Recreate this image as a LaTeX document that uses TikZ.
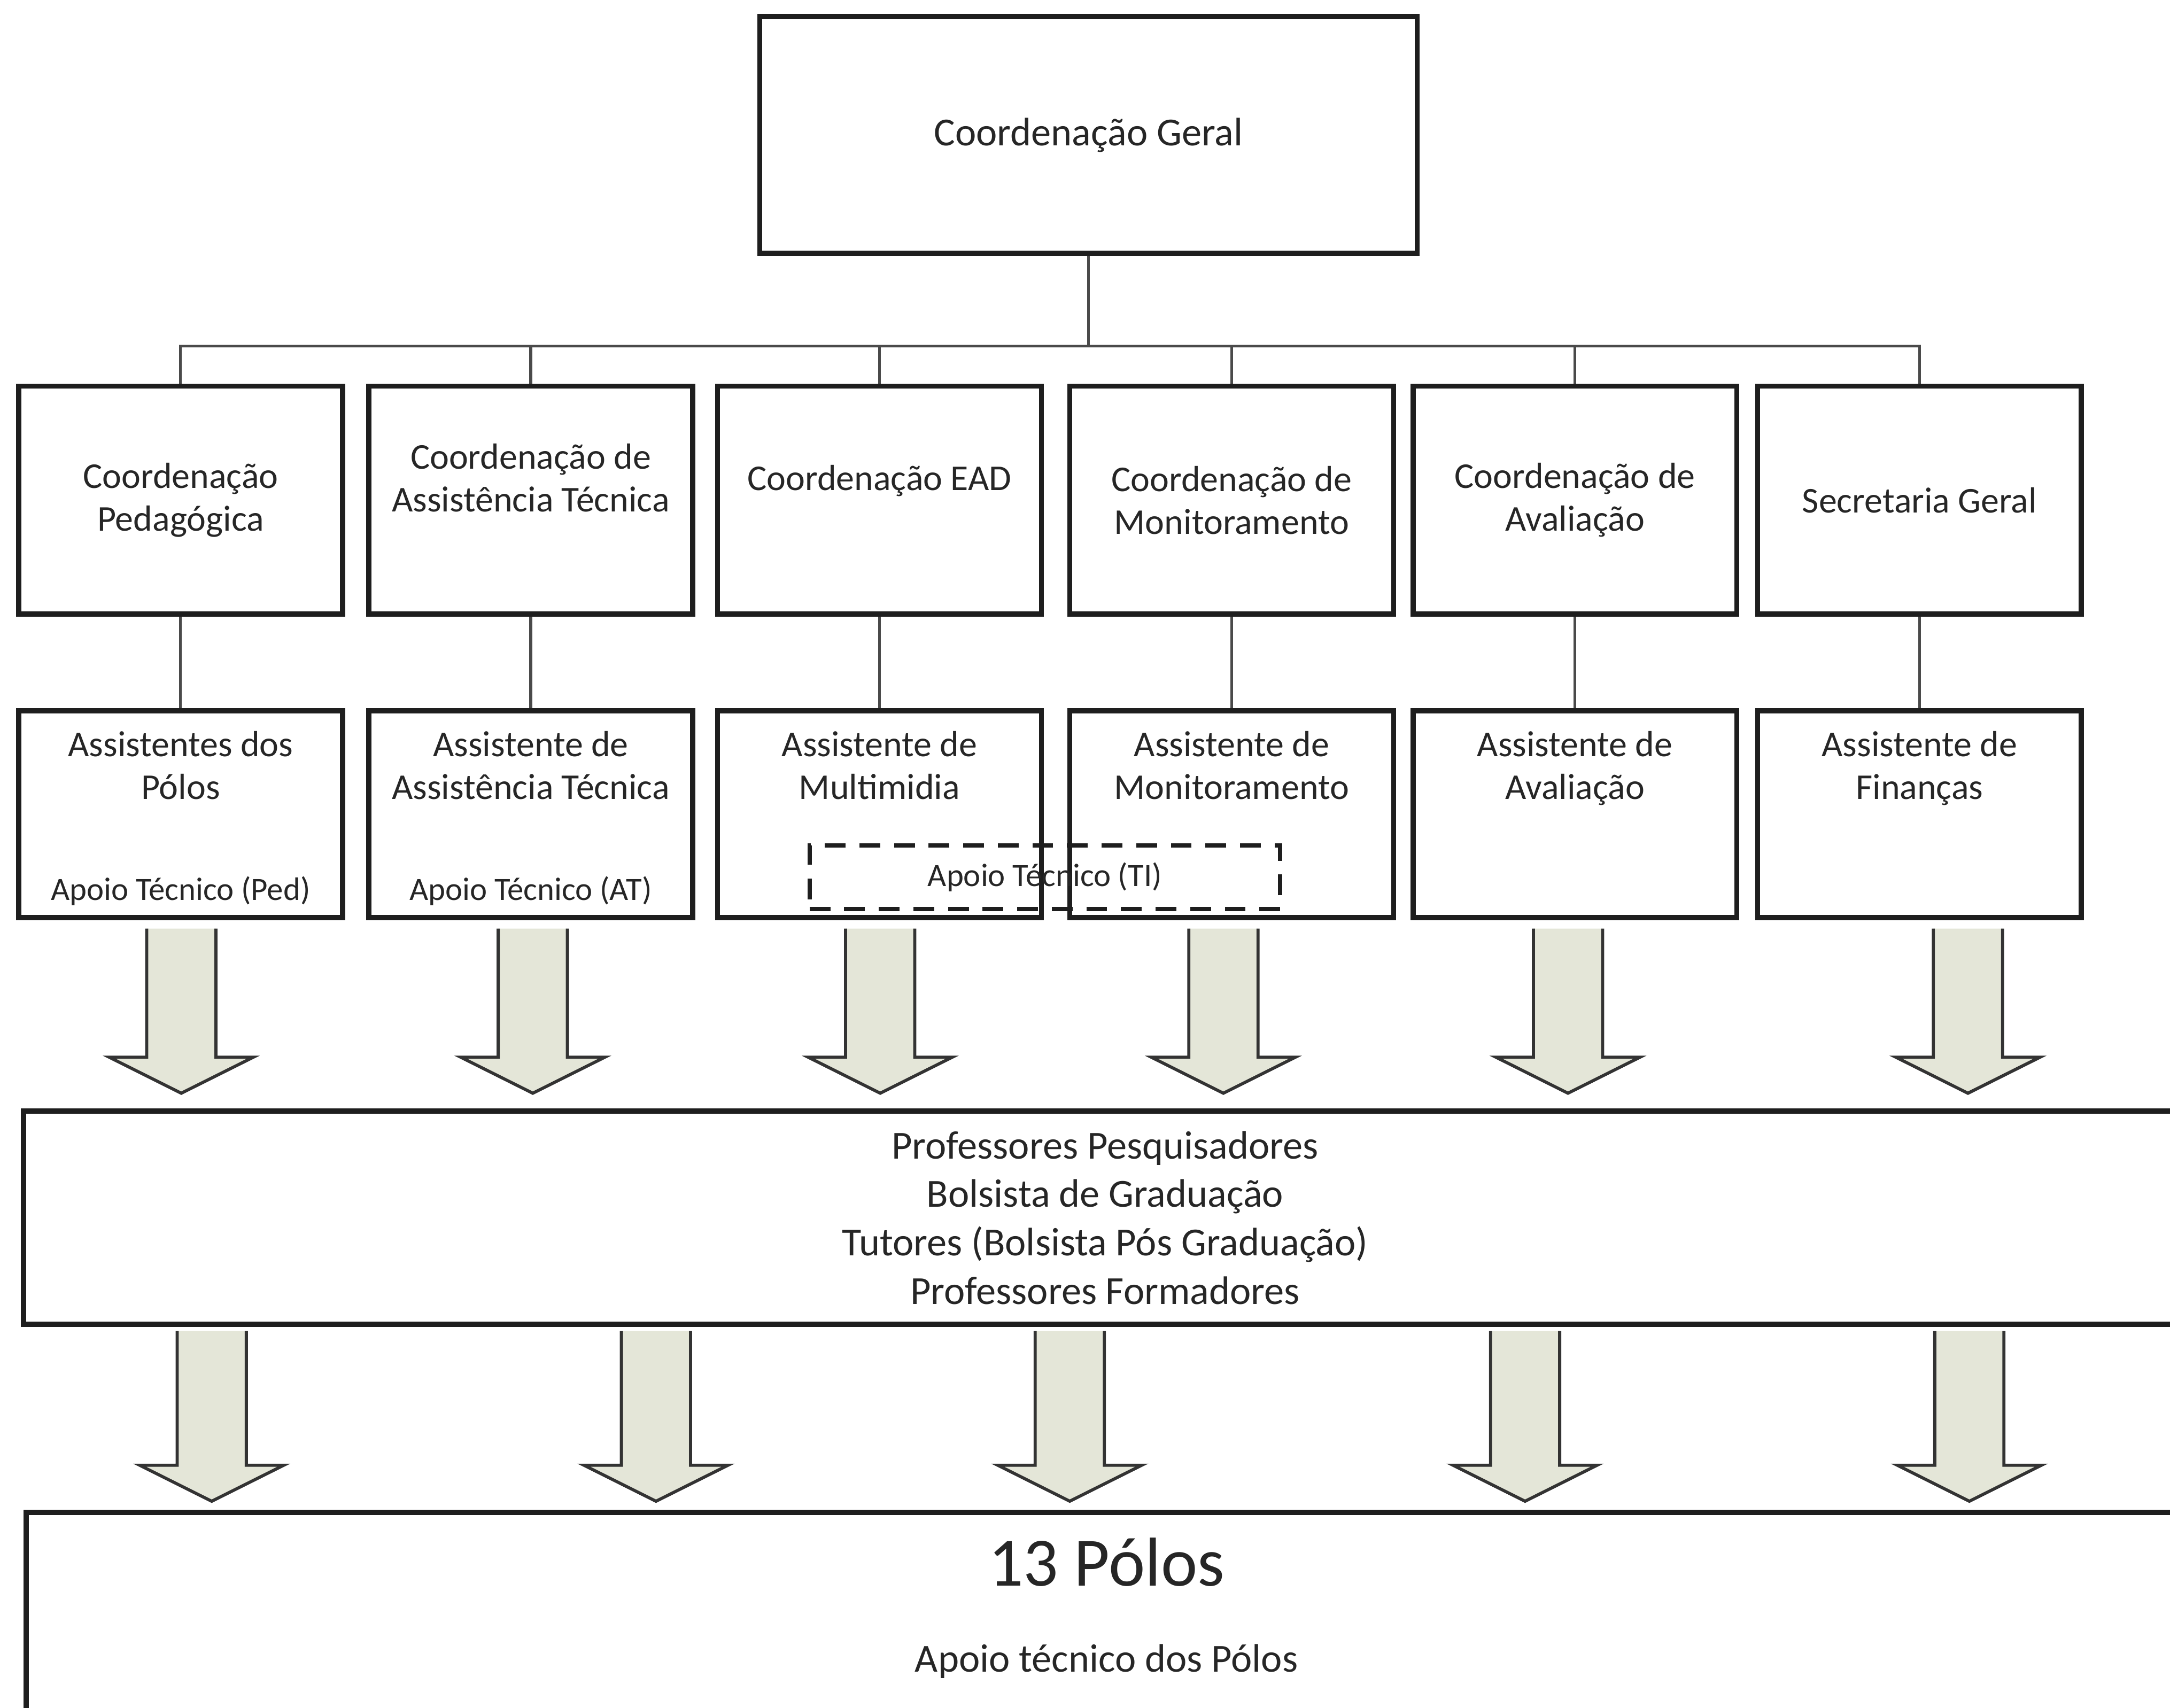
\documentclass[tikz,border=0pt]{standalone}
\usepackage{fontspec}
\setmainfont{Carlito}

\definecolor{arrowfill}{HTML}{E4E6D8}
\definecolor{boxline}{HTML}{1E1E1E}
\definecolor{linkline}{HTML}{4A4A4A}

\begin{document}
\begin{tikzpicture}[
  x=0.4pt, y=-0.4pt,
  font=\fontsize{10.5}{12.4}\selectfont,
  box/.style={draw=boxline, line width=1.5pt, minimum width=93.6pt, align=center, text=black!85},
  cbox/.style={box, minimum height=65.9pt},
  abox/.style={box, minimum height=59.8pt},
  wide/.style={draw=boxline, line width=1.5pt, align=center, text=black!85},
  link/.style={draw=linkline, line width=0.8pt},
  blk/.style={fill=arrowfill, draw=black!80, line width=0.9pt},
  atext/.style={anchor=north, yshift=-6.5pt, inner sep=0pt, align=center, text=black!85},
  apoio/.style={anchor=south, yshift=4pt, inner sep=0pt, font=\fontsize{9.4}{11}\selectfont, text=black!85}
]
\path[use as bounding box, clip] (0,0) rectangle (1568,1234);

\node[box, minimum width=190pt, minimum height=68.4pt, font=\fontsize{11.5}{14}\selectfont] (geral) at (786.5,97.5) {Coordenação Geral};

% coordenacoes
\node[cbox] (c1) at (130.5,361.4) {Coordenação\\Pedagógica};
\node[cbox, text depth=13pt] (c2) at (383.5,361.4) {Coordenação de\\Assistência Técnica};
\node[cbox, text depth=13pt] (c3) at (635.5,361.4) {Coordenação EAD};
\node[cbox] (c4) at (890,361.4) {Coordenação de\\Monitoramento};
\node[cbox] (c5) at (1138,361.4) {Coordenação de\\Avaliação};
\node[cbox] (c6) at (1387,361.4) {Secretaria Geral};

% assistentes
\node[abox, label={[atext]north:{Assistentes dos\\Pólos}}, label={[apoio]south:Apoio Técnico (Ped)}] (a1) at (130.5,588.4) {};
\node[abox, label={[atext]north:{Assistente de\\Assistência Técnica}}, label={[apoio]south:Apoio Técnico (AT)}] (a2) at (383.5,588.4) {};
\node[abox, label={[atext]north:{Assistente de\\Multimidia}}] (a3) at (635.5,588.4) {};
\node[abox, label={[atext]north:{Assistente de\\Monitoramento}}] (a4) at (890,588.4) {};
\node[abox, label={[atext]north:{Assistente de\\Avaliação}}] (a5) at (1138,588.4) {};
\node[abox, label={[atext]north:{Assistente de\\Finanças}}] (a6) at (1387,588.4) {};

\node[draw=boxline, dash pattern=on 6pt off 4pt, line width=1.2pt, minimum width=136pt, minimum height=18.4pt, text=black!85, font=\fontsize{9.4}{11}\selectfont] (ti) at (755,634) {Apoio Técnico (TI)};

% faixas de baixo
\node[wide, minimum width=625.2pt, minimum height=61.6pt, font=\fontsize{11.5}{14}\selectfont] (prof) at (798.5,880) {Professores Pesquisadores\\Bolsista de Graduação\\Tutores (Bolsista Pós Graduação)\\Professores Formadores};
\node[wide, minimum width=624.4pt, minimum height=70.8pt,
  label={[anchor=base, yshift=-22pt, inner sep=0pt, text=black!85, font=\fontsize{20}{24}\selectfont]north:13 Pólos},
  label={[anchor=base, yshift=-46.8pt, inner sep=0pt, text=black!85, font=\fontsize{11.5}{14}\selectfont]north:Apoio técnico dos Pólos}] (polos) at (799.5,1181.5) {};

% ligacoes
\coordinate (bus) at (786.5,250);
\draw[link] (geral.south) -- (bus);
\foreach \i in {1,...,6} {
  \draw[link] (bus) -| (c\i.north);
  \draw[link] (c\i.south) -- (a\i.north);
}

% setas largas
\path (a1.south) ++(0,6) coordinate (r1);
\path (prof.south) ++(0,3) coordinate (r2);
\foreach \x in {131,385,636,884,1133,1422}
  \filldraw[blk] (\x,0 |- r1) ++(-25,0) -- ++(0,93) -- ++(-27,0) -- ++(52,26) -- ++(52,-26) -- ++(-27,0) -- ++(0,-93);
\foreach \x in {153,474,773,1102,1423}
  \filldraw[blk] (\x,0 |- r2) ++(-25,0) -- ++(0,97) -- ++(-27,0) -- ++(52,26) -- ++(52,-26) -- ++(-27,0) -- ++(0,-97);
\end{tikzpicture}
\end{document}
